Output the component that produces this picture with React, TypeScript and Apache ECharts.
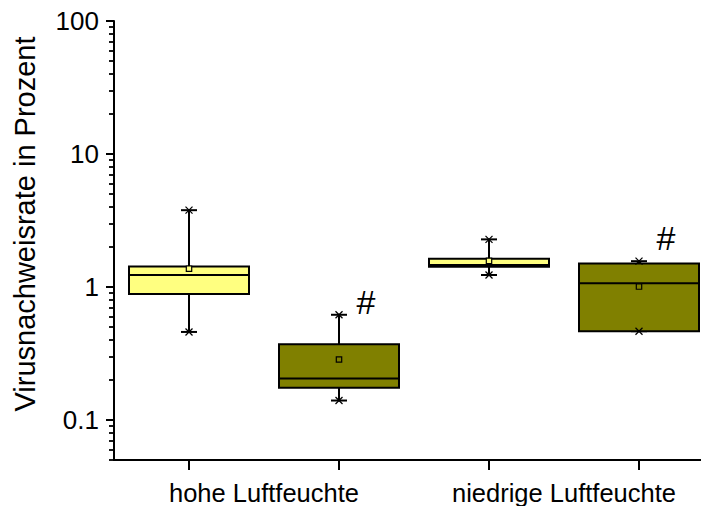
import React, { useEffect, useRef } from "react";
import * as echarts from "echarts";

// ---- data ----
const groupLabels = ["hohe Luftfeuchte", "niedrige Luftfeuchte"];
const boxCategories = ["hohe Luftfeuchte 1", "hohe Luftfeuchte 2", "niedrige Luftfeuchte 1", "niedrige Luftfeuchte 2"];
const minValues = [0.459, 0.14, 1.23, 0.465];
const q1Values = [0.887, 0.1745, 1.42, 0.465];
const medianValues = [1.229, 0.205, 1.46, 1.066];
const q3Values = [1.427, 0.3715, 1.63, 1.503];
const maxValues = [3.78, 0.618, 2.28, 1.563];
const meanValues = [1.372, 0.285, 1.574, 1.007];
const lightSeriesIdx = [0, 2];
const darkSeriesIdx = [1, 3];
const markCategories = [1, 3];
const markValues = [0.776, 2.33];
const markText = "#";
const yMin = 0.05;
const yMax = 100;
const majorTicks = [0.1, 1, 10, 100];
const minorTicks = [
  0.05, 0.06, 0.07, 0.08, 0.09,
  0.2, 0.3, 0.4, 0.5, 0.6, 0.7, 0.8, 0.9,
  2, 3, 4, 5, 6, 7, 8, 9,
  20, 30, 40, 50, 60, 70, 80, 90,
];
const yTitle = "Virusnachweisrate in Prozent";

// ---- styles ----
const FONT = "'Liberation Sans', Arial, Helvetica, sans-serif";
const LIGHT = "#FFFF80";
const DARK = "#808000";

const rowsFor = (idxs: number[]) =>
  idxs.map((i) => [i, minValues[i], q1Values[i], medianValues[i], q3Values[i], maxValues[i], meanValues[i]]);

const makeRender = (fill: string) => (params: any, api: any) => {
  const x = api.value(0);
  const band = api.size([1, 1])[0];
  const w = band * 0.8;
  const pMin = api.coord([x, api.value(1)]);
  const pQ1 = api.coord([x, api.value(2)]);
  const pMed = api.coord([x, api.value(3)]);
  const pQ3 = api.coord([x, api.value(4)]);
  const pMax = api.coord([x, api.value(5)]);
  const pMean = api.coord([x, api.value(6)]);
  const cx = pMed[0];
  const line = (x1: number, y1: number, x2: number, y2: number, lw: number) => ({
    type: "line",
    shape: { x1, y1, x2, y2 },
    style: { stroke: "#000", lineWidth: lw },
  });
  const capHalf = 8;
  const xm = 3.5;
  const cross = (y: number) => [
    line(cx - xm, y - xm, cx + xm, y + xm, 1.2),
    line(cx - xm, y + xm, cx + xm, y - xm, 1.2),
  ];
  return {
    type: "group",
    children: [
      line(cx, pMax[1], cx, pQ3[1], 2),
      line(cx, pQ1[1], cx, pMin[1], 2),
      line(cx - capHalf, pMax[1], cx + capHalf, pMax[1], 2),
      line(cx - capHalf, pMin[1], cx + capHalf, pMin[1], 2),
      {
        type: "rect",
        shape: { x: cx - w / 2, y: pQ3[1], width: w, height: pQ1[1] - pQ3[1] },
        style: { fill, stroke: "#000", lineWidth: 2 },
      },
      line(cx - w / 2, pMed[1], cx + w / 2, pMed[1], 2),
      {
        type: "rect",
        shape: { x: cx - 2.7, y: pMean[1] - 2.7, width: 5.4, height: 5.4 },
        style: { fill, stroke: "#000", lineWidth: 1.2 },
      },
      ...cross(pMax[1]),
      ...cross(pMin[1]),
    ],
  };
};

export default function App() {
  const ref = useRef<HTMLDivElement>(null);
  useEffect(() => {
    if (!ref.current) return;
    const chart = echarts.init(ref.current, undefined, { renderer: "svg" });
    chart.setOption({
      animation: false,
      backgroundColor: "#fff",
      grid: { left: 114, top: 21, bottom: 44, right: 0, containLabel: false },
      xAxis: [
        {
          type: "category",
          data: boxCategories,
          position: "bottom",
          boundaryGap: true,
          axisLine: { show: true, lineStyle: { color: "#000", width: 2 } },
          axisTick: { show: true, alignWithLabel: true, interval: 0, length: 10, lineStyle: { color: "#000", width: 2 } },
          axisLabel: { show: false },
          splitLine: { show: false },
        },
        {
          type: "category",
          data: groupLabels,
          position: "bottom",
          boundaryGap: true,
          axisLine: { show: false },
          axisTick: { show: false },
          axisLabel: { fontFamily: FONT, fontSize: 25.5, color: "#000", margin: 20, interval: 0 },
          splitLine: { show: false },
        },
      ],
      yAxis: [
        {
          type: "log",
          logBase: 10,
          min: yMin,
          max: yMax,
          position: "left",
          axisLine: { show: true, lineStyle: { color: "#000", width: 2 } },
          axisTick: { show: true, customValues: majorTicks, length: 8, lineStyle: { color: "#000", width: 2 } },
          axisLabel: {
            fontFamily: FONT,
            fontSize: 26,
            color: "#000",
            margin: 15,
            customValues: majorTicks,
            formatter: (v: number) => String(v),
          },
          splitLine: { show: false },
        },
        {
          type: "log",
          logBase: 10,
          min: yMin,
          max: yMax,
          position: "left",
          axisLine: { show: false },
          axisTick: { show: true, customValues: minorTicks, length: 5, lineStyle: { color: "#000", width: 1.8 } },
          axisLabel: { show: false },
          splitLine: { show: false },
        },
      ],
      graphic: [
        {
          type: "text",
          x: 25,
          y: 224,
          rotation: Math.PI / 2,
          style: {
            text: yTitle,
            font: `29px ${FONT}`,
            fill: "#000",
            textAlign: "center",
            textVerticalAlign: "middle",
          },
        },
      ],
      series: [
        {
          type: "custom",
          name: "hell",
          xAxisIndex: 0,
          yAxisIndex: 0,
          data: rowsFor(lightSeriesIdx),
          renderItem: makeRender(LIGHT),
          encode: { x: 0, y: [1, 2, 3, 4, 5, 6] },
        },
        {
          type: "custom",
          name: "dunkel",
          xAxisIndex: 0,
          yAxisIndex: 0,
          data: rowsFor(darkSeriesIdx),
          renderItem: makeRender(DARK),
          encode: { x: 0, y: [1, 2, 3, 4, 5, 6] },
        },
        {
          type: "custom",
          name: "Signifikanz",
          xAxisIndex: 0,
          yAxisIndex: 0,
          data: markCategories.map((c, i) => [c, markValues[i]]),
          encode: { x: 0, y: 1 },
          renderItem: (params: any, api: any) => {
            const p = api.coord([api.value(0), api.value(1)]);
            const band = api.size([1, 1])[0];
            return {
              type: "text",
              x: p[0] + band * 0.18,
              y: p[1],
              style: {
                text: markText,
                font: `34px ${FONT}`,
                fill: "#000",
                textAlign: "center",
                textVerticalAlign: "middle",
              },
            };
          },
        },
      ],
    });
    return () => chart.dispose();
  }, []);
  return <div ref={ref} style={{ position: "fixed", left: 0, top: 0, width: 714, height: 506 }} />;
}
